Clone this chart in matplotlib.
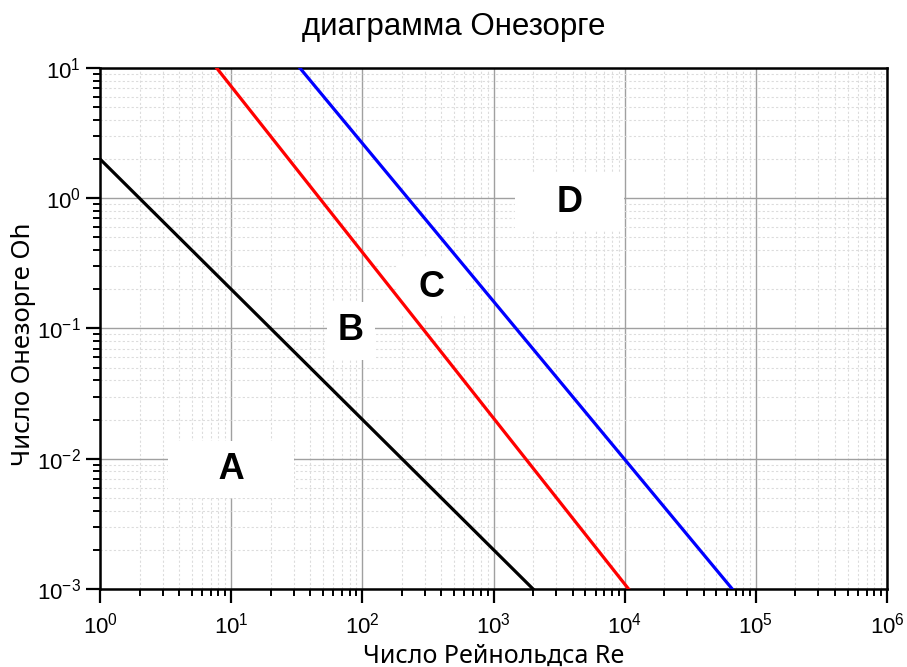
import matplotlib.pyplot as plt
from matplotlib.ticker import LogLocator, NullFormatter, FuncFormatter, FixedLocator
import numpy as np

plt.rcParams['font.family'] = 'Liberation Sans'
plt.rcParams['mathtext.fontset'] = 'custom'
plt.rcParams['mathtext.rm'] = 'Liberation Sans'
plt.rcParams['mathtext.it'] = 'Liberation Sans:italic'
plt.rcParams['mathtext.bf'] = 'Liberation Sans:bold'

# Границы режимов распада струи (Re, Oh) - концы прямых
re_ab = [1, 2000]
oh_ab = [2.0, 1e-3]
re_bc = [7.75, 1.07e4]
oh_bc = [10, 1e-3]
re_cd = [33.4, 6.6e4]
oh_cd = [10, 1e-3]

# подписи областей
regions = ['A', 'B', 'C', 'D']
region_re = [10, 82, 339, 3800]
region_oh = [0.0083, 0.096, 0.208, 0.935]
# сколько пробелов добавить по бокам белой подложки
region_pad = [4, 0, 1, 3]

# деления осей
re_ticks = [1, 10, 100, 1e3, 1e4, 1e5, 1e6]
oh_ticks = [1e-3, 1e-2, 1e-1, 1, 10]


def pow10(v, pos):
    return r'$\mathrm{10^{%d}}$' % round(np.log10(v))


fig = plt.figure(figsize=(9.07, 6.67), dpi=100)
ax = fig.add_axes([0.1103, 0.117, 0.8677, 0.781])
ax.set_axisbelow(True)

ax.plot(re_ab, oh_ab, color='black', lw=2.3, zorder=3)
ax.plot(re_bc, oh_bc, color='#ff0000', lw=2.3, zorder=3)
ax.plot(re_cd, oh_cd, color='#0000ff', lw=2.3, zorder=3)

ax.set_xscale('log')
ax.set_yscale('log')
ax.set_xlim(1, 1e6)
ax.set_ylim(1e-3, 10)

ax.xaxis.set_major_locator(FixedLocator(re_ticks))
ax.yaxis.set_major_locator(FixedLocator(oh_ticks))
ax.xaxis.set_minor_locator(LogLocator(base=10, subs=range(2, 10), numticks=100))
ax.yaxis.set_minor_locator(LogLocator(base=10, subs=range(2, 10), numticks=100))
ax.xaxis.set_major_formatter(FuncFormatter(pow10))
ax.yaxis.set_major_formatter(FuncFormatter(pow10))
ax.xaxis.set_minor_formatter(NullFormatter())
ax.yaxis.set_minor_formatter(NullFormatter())

ax.grid(which='major', color='#a0a0a0', lw=1.0)
ax.grid(which='minor', color='#dcdcdc', lw=0.8, ls=(0, (2, 2)))

for s in ax.spines.values():
    s.set_linewidth(1.8)
ax.tick_params(which='major', direction='out', length=10, width=1.6,
               labelsize=16)
ax.tick_params(axis='x', which='major', pad=7)
ax.tick_params(axis='y', which='major', pad=4)
ax.tick_params(which='minor', direction='out', length=5, width=1.4)

for name, x, y, n in zip(regions, region_re, region_oh, region_pad):
    ax.text(x, y, ' ' * n + name + ' ' * n, fontsize=26, fontweight='bold',
            ha='center', va='center', zorder=2,
            bbox=dict(facecolor='white', edgecolor='none', pad=8))

fig.suptitle('диаграмма Онезорге', fontsize=22.5, x=0.5, y=0.9475,
             va='baseline')
ax.set_xlabel('Число Рейнольдса Re', fontsize=18, family='Noto Sans')
ax.xaxis.set_label_coords(0.5, -0.105)
ax.set_ylabel('Число Онезорге Oh', fontsize=18.5, family='Noto Sans')
ax.yaxis.set_label_coords(-0.082, 0.47)

fig.savefig('out.png', dpi=100)
